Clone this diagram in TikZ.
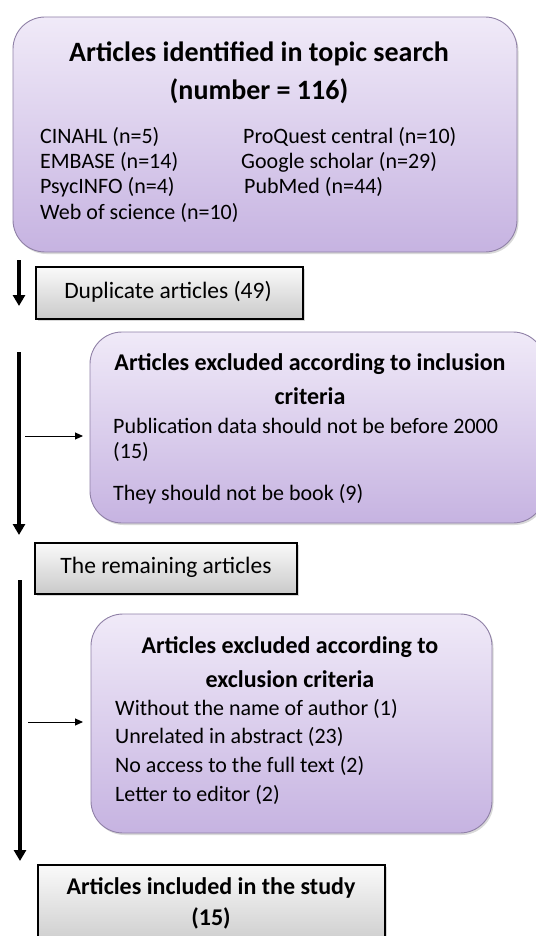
\documentclass[tikz,border=0pt]{standalone}
\usepackage{fontspec}
\setmainfont{Carlito}
\usetikzlibrary{shadows,arrows.meta}
\definecolor{ptop}{HTML}{F0EAF8}
\definecolor{pbot}{HTML}{C6B3E1}
\definecolor{pline}{HTML}{8F80A6}
\tikzset{
  purplebox/.style={draw=pline, line width=0.9pt, rounded corners=32pt, top color=ptop, bottom color=pbot,
     drop shadow={shadow xshift=1.5pt, shadow yshift=-2pt, opacity=0.3}},
  graybox/.style={draw=black, line width=1.2pt, top color=gray!4, bottom color=gray!42,
     drop shadow={shadow xshift=1.5pt, shadow yshift=-1.5pt, opacity=0.3}},
  bigarrow/.style={line width=3.2pt, -{Triangle[length=11pt,width=12pt]}},
  smallarrow/.style={line width=1pt, -{Triangle[length=8pt,width=7pt]}},
  ttl/.style={font=\fontsize{28}{32}\selectfont\bfseries, inner sep=0pt},
  htl/.style={font=\fontsize{24}{28}\selectfont\bfseries, inner sep=0pt},
  gtx/.style={font=\fontsize{23.5}{27}\selectfont, inner sep=0pt},
  body/.style={font=\fontsize{22}{25}\selectfont, inner sep=0pt, anchor=west},
}
\begin{document}
\begin{tikzpicture}[x=1pt,y=-1pt]
\useasboundingbox (0,0) rectangle (535,936);
% box 1
\draw[purplebox] (13,17) rectangle (517,252);
\node[ttl] (t1) at (259,54) {Articles identified in topic search};
\node[ttl] (t2) at (259,91) {(number = 116)};
\node[body] (c1) at (40,137) {CINAHL (n=5)};
\node[body] (c2) at (40,162) {EMBASE (n=14)};
\node[body] (c3) at (40,187) {PsycINFO (n=4)};
\node[body] (c4) at (40,213) {Web of science (n=10)};
\node[body] (d1) at (243,137) {ProQuest central (n=10)};
\node[body] (d2) at (241,162) {Google scholar (n=29)};
\node[body] (d3) at (244,187) {PubMed (n=44)};
% duplicates
\coordinate (a1s) at (19,260);
\coordinate (a1e) at (19,306);
\draw[bigarrow] (a1s) -- (a1e);
\draw[graybox] (36,267) rectangle (303,319);
\node[gtx] (dup) at (168,292) {Duplicate articles (49)};
% box 2
\coordinate (a2s) at (19,352);
\coordinate (a2e) at (19,535);
\draw[bigarrow] (a2s) -- (a2e);
\draw[purplebox] (90,332) rectangle (545,523);
\coordinate (s2s) at (25,436);
\coordinate (s2e) at (83,436);
\draw[smallarrow] (s2s) -- (s2e);
\node[htl] (h1) at (310,364) {Articles excluded according to inclusion};
\node[htl] (h2) at (310,396) {criteria};
\node[body] (e1) at (113,426) {Publication data should not be before 2000};
\node[body] (e2) at (113,452) {(15)};
\node[body] (e3) at (113,494) {They should not be book (9)};
% remaining
\draw[graybox] (35,543) rectangle (297,594);
\node[gtx] (rem) at (166,567) {The remaining articles};
% box 4
\coordinate (a3s) at (20,580);
\coordinate (a3e) at (20,861);
\draw[bigarrow] (a3s) -- (a3e);
\draw[purplebox] (91,614) rectangle (492,833);
\coordinate (s3s) at (28,722);
\coordinate (s3e) at (83,722);
\draw[smallarrow] (s3s) -- (s3e);
\node[htl] (h3) at (290,647) {Articles excluded according to};
\node[htl] (h4) at (290,679) {exclusion criteria};
\node[body] (f1) at (115,709) {Without the name of author (1)};
\node[body] (f2) at (115,737) {Unrelated in abstract (23)};
\node[body] (f3) at (115,766) {No access to the full text (2)};
\node[body] (f4) at (115,795) {Letter to editor (2)};
% final
\draw[graybox] (38,865) rectangle (385,950);
\node[htl] (g1) at (211,888) {Articles included in the study};
\node[htl] (g2) at (211,918) {(15)};
\end{tikzpicture}
\end{document}
